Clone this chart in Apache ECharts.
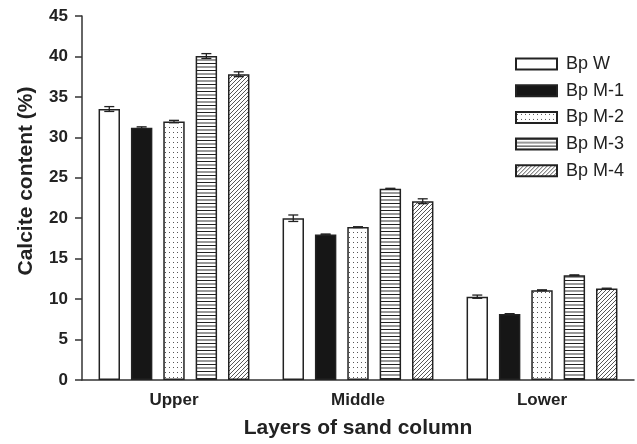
<!DOCTYPE html>
<html><head><meta charset="utf-8">
<script src="https://cdn.jsdelivr.net/npm/echarts@6/dist/echarts.min.js"></script>
<style>html,body{margin:0;padding:0;background:#fff}#c{width:637px;height:444px}</style>
</head><body><div id="c"></div>
<script>
const categories = ['Upper', 'Middle', 'Lower'];
const seriesNames = ['Bp W', 'Bp M-1', 'Bp M-2', 'Bp M-3', 'Bp M-4'];
const bpW  = [33.5, 20.0, 10.3];
const bpM1 = [31.2, 18.0, 8.15];
const bpM2 = [31.95, 18.9, 11.1];
const bpM3 = [40.05, 23.65, 12.95];
const bpM4 = [37.8, 22.1, 11.3];
const errW  = [0.3, 0.4, 0.2];
const errM1 = [0.1, 0.05, 0.05];
const errM2 = [0.15, 0.05, 0.05];
const errM3 = [0.3, 0.05, 0.05];
const errM4 = [0.3, 0.3, 0.05];
const yTicks = [0, 5, 10, 15, 20, 25, 30, 35, 40, 45];
const xTitle = 'Layers of sand column';
const yTitle = 'Calcite content (%)';

function tile(w, h, draw) {
  const c = document.createElement('canvas');
  c.width = w; c.height = h;
  const g = c.getContext('2d');
  g.fillStyle = '#fff'; g.fillRect(0, 0, w, h);
  draw(g);
  return c;
}
const dotPat = tile(4, 5, g => { g.fillStyle = '#555'; g.fillRect(1, 2, 1, 1); });
const linePat = tile(2, 7, g => { g.fillStyle = '#222'; g.fillRect(0, 0, 2, 1); g.fillStyle = '#999'; g.fillRect(0, 3, 2, 2); });
const hatchPat = tile(4, 4, g => {
  g.strokeStyle = '#444'; g.lineWidth = 0.9;
  g.beginPath();
  g.moveTo(-1, 5); g.lineTo(5, -1);
  g.moveTo(-1, 1); g.lineTo(1, -1);
  g.moveTo(3, 5); g.lineTo(5, 3);
  g.stroke();
});

const fills = [
  '#ffffff',
  '#161616',
  { image: dotPat, repeat: 'repeat' },
  { image: linePat, repeat: 'repeat' },
  { image: hatchPat, repeat: 'repeat' }
];
const values = [bpW, bpM1, bpM2, bpM3, bpM4];
const errs = [errW, errM1, errM2, errM3, errM4];

const errData = [];
values.forEach((arr, si) => arr.forEach((v, ci) => errData.push([ci, si, v, errs[si][ci]])));

const CAT_GAP = 0.18, BAR_GAP = 0.51;

const barSeries = seriesNames.map((n, i) => ({
  name: n, type: 'bar', data: values[i],
  barGap: (BAR_GAP * 100) + '%', barCategoryGap: (CAT_GAP * 100) + '%',
  itemStyle: { color: fills[i], borderColor: '#222', borderWidth: 1.5 },
  emphasis: { disabled: true }
}));

const errSeries = {
  type: 'custom', name: 'err', z: 5,
  data: errData,
  encode: { x: 0, y: 2 },
  renderItem: function (params, api) {
    const ci = api.value(0), si = api.value(1), v = api.value(2), e = api.value(3);
    const band = api.size([1, 0])[0];
    const w = band * (1 - CAT_GAP) / (5 + 4 * BAR_GAP);
    const step = w * (1 + BAR_GAP);
    const c = api.coord([ci, v]);
    const x = c[0] + (si - 2) * step;
    const top = api.coord([ci, v + e])[1];
    const bot = api.coord([ci, v - e])[1];
    const hw = 5;
    const st = { stroke: '#222', lineWidth: 1.3 };
    return { type: 'group', children: [
      { type: 'line', shape: { x1: x, y1: top, x2: x, y2: bot }, style: st },
      { type: 'line', shape: { x1: x - hw, y1: top, x2: x + hw, y2: top }, style: st },
      { type: 'line', shape: { x1: x - hw, y1: bot, x2: x + hw, y2: bot }, style: st }
    ]};
  }
};

const chart = echarts.init(document.getElementById('c'), null, { renderer: 'canvas' });
const FONT = '"Liberation Sans", Arial, sans-serif';
chart.setOption({
  animation: false,
  backgroundColor: '#fff',
  textStyle: { fontFamily: FONT },
  grid: { left: 82, right: 3, top: 16, bottom: 62, containLabel: false },
  legend: {
    data: seriesNames, orient: 'vertical', left: 510, top: 50,
    itemWidth: 41, itemHeight: 11, itemGap: 8.7, icon: 'rect',
    textStyle: { fontFamily: FONT, fontSize: 18, color: '#222', padding: [0, 0, 0, 4] },
    selectedMode: false
  },
  graphic: [{
    type: 'text', x: 26, y: 181, rotation: Math.PI / 2,
    style: { text: yTitle, font: 'bold 21px ' + FONT, fill: '#222', align: 'center', verticalAlign: 'middle' }
  }],
  xAxis: {
    type: 'category', data: categories,
    axisLine: { lineStyle: { color: '#333', width: 1.5 } },
    axisTick: { alignWithLabel: true, length: 7, lineStyle: { color: '#333', width: 1.5 } },
    axisLabel: { fontFamily: FONT, fontSize: 17, fontWeight: 'bold', color: '#222', margin: 12 },
    name: xTitle, nameLocation: 'middle', nameGap: 38,
    nameTextStyle: { fontFamily: FONT, fontSize: 21, fontWeight: 'bold', color: '#222' }
  },
  yAxis: {
    type: 'value', min: yTicks[0], max: yTicks[yTicks.length - 1], interval: 5,
    splitLine: { show: false },
    axisLine: { show: true, lineStyle: { color: '#333', width: 1.5 } },
    axisTick: { show: true, length: 7, lineStyle: { color: '#333', width: 1.5 } },
    axisLabel: { fontFamily: FONT, fontSize: 17, fontWeight: 'bold', color: '#222', margin: 14 }
  },
  series: barSeries.concat([errSeries])
});
</script></body></html>
